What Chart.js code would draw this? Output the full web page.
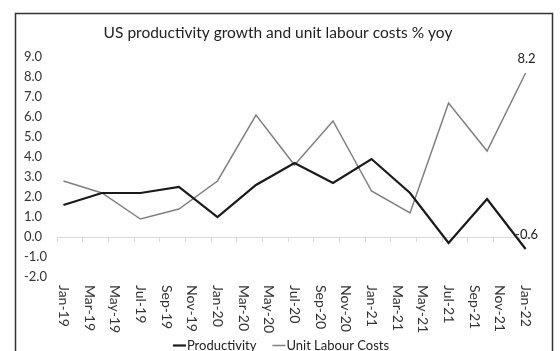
<!DOCTYPE html>
<html lang="en">
<head>
  <meta charset="UTF-8" />
  <title>US productivity growth and unit labour costs</title>
  <script src="https://cdn.jsdelivr.net/npm/chart.js"></script>
  <style>
    html, body {
      margin: 0;
      padding: 0;
      background: #fff;
      width: 560px;
      height: 351px;
      overflow: hidden;
    }
    .grafico-container {
      position: absolute;
      left: 0;
      top: 0;
      width: 560px;
      height: 351px;
    }
  </style>
</head>
<body>
  <div class="grafico-container">
    <canvas id="grafico"></canvas>
  </div>

  <script>
    // quarterly observations, placed on a monthly date axis
    const quarters = ['Jan-19', 'Apr-19', 'Jul-19', 'Oct-19', 'Jan-20', 'Apr-20', 'Jul-20',
      'Oct-20', 'Jan-21', 'Apr-21', 'Jul-21', 'Oct-21', 'Jan-22'];
    const productivity = [1.6, 2.2, 2.2, 2.5, 1.0, 2.6, 3.7, 2.7, 3.9, 2.2, -0.3, 1.9, -0.6];
    const unitLabourCosts = [2.8, 2.2, 0.9, 1.4, 2.8, 6.1, 3.6, 5.8, 2.3, 1.2, 6.7, 4.3, 8.2];

    // axis labels shown every two months
    const tickLabels = ['Jan-19', 'Mar-19', 'May-19', 'Jul-19', 'Sep-19', 'Nov-19', 'Jan-20',
      'Mar-20', 'May-20', 'Jul-20', 'Sep-20', 'Nov-20', 'Jan-21', 'Mar-21', 'May-21',
      'Jul-21', 'Sep-21', 'Nov-21', 'Jan-22'];
    const yTicks = [-2, -1, 0, 1, 2, 3, 4, 5, 6, 7, 8, 9];

    // monthly categories Jan-19 .. Jan-22
    const monthNames = ['Jan', 'Feb', 'Mar', 'Apr', 'May', 'Jun', 'Jul', 'Aug', 'Sep', 'Oct', 'Nov', 'Dec'];
    const months = [];
    for (let yr = 19; yr <= 22; yr++) {
      for (let m = 0; m < 12; m++) {
        months.push(monthNames[m] + '-' + yr);
        if (yr === 22) break;
      }
    }

    const fonte = 'Lato, "DejaVu Sans", sans-serif';

    function pontos(valores) {
      return quarters.map((q, i) => ({ x: q, y: valores[i] }));
    }

    // outer frame of the chart (bottom edge runs past the window)
    const moldura = {
      id: 'moldura',
      afterDraw(chart) {
        const ctx = chart.ctx;
        ctx.save();
        ctx.strokeStyle = '#333';
        ctx.lineWidth = 1.5;
        ctx.strokeRect(15.5, 13.5, 537, 400);
        ctx.restore();
      }
    };

    // rotated date labels (read top to bottom) below the plot
    const rotulosX = {
      id: 'rotulosX',
      afterDraw(chart) {
        const ctx = chart.ctx;
        const xs = chart.scales.x;
        const base = chart.chartArea.bottom + 8;
        ctx.save();
        ctx.fillStyle = '#333';
        ctx.font = '14px ' + fonte;
        ctx.textAlign = 'left';
        ctx.textBaseline = 'middle';
        tickLabels.forEach(lab => {
          const x = xs.getPixelForValue(months.indexOf(lab));
          ctx.save();
          ctx.translate(x, base);
          ctx.rotate(Math.PI / 2);
          ctx.fillText(lab, 0, 0);
          ctx.restore();
        });
        ctx.restore();
      }
    };

    // value labels on the last point of each series
    const rotulosFinais = {
      id: 'rotulosFinais',
      beforeDatasetsDraw(chart) {
        const ctx = chart.ctx;
        ctx.save();
        ctx.fillStyle = '#222';
        ctx.font = '13px ' + fonte;
        ctx.textAlign = 'center';
        ctx.textBaseline = 'middle';
        chart.data.datasets.forEach((ds, i) => {
          const meta = chart.getDatasetMeta(i);
          const last = meta.data[meta.data.length - 1];
          const v = ds.data[ds.data.length - 1].y;
          ctx.fillText(v.toFixed(1), last.x + 1, last.y - 14);
        });
        ctx.restore();
      }
    };

    // line legend at the bottom edge, partly cut by the window like the original
    const legenda = {
      id: 'legenda',
      afterDraw(chart) {
        const ctx = chart.ctx;
        const y = 345.5;
        const linha = 13, folga = 1, entre = 16;
        ctx.save();
        ctx.font = '13px ' + fonte;
        ctx.textBaseline = 'middle';
        ctx.textAlign = 'left';
        const itens = chart.data.datasets.map(ds => ({ ds, w: ctx.measureText(ds.label).width }));
        const total = itens.reduce((s, it) => s + linha + folga + it.w, 0) + entre * (itens.length - 1);
        let x = 281 - total / 2;
        itens.forEach(it => {
          ctx.strokeStyle = it.ds.borderColor;
          ctx.lineWidth = it.ds.borderWidth;
          ctx.beginPath();
          ctx.moveTo(x, y);
          ctx.lineTo(x + linha, y);
          ctx.stroke();
          ctx.fillStyle = '#222';
          ctx.fillText(it.ds.label, x + linha + folga, y);
          x += linha + folga + it.w + entre;
        });
        ctx.restore();
      }
    };

    const config = {
      type: 'line',
      data: {
        labels: months,
        datasets: [
          {
            label: 'Productivity',
            data: pontos(productivity),
            borderColor: '#1a1a1a',
            backgroundColor: '#1a1a1a',
            borderWidth: 2.2,
            pointRadius: 0,
            tension: 0
          },
          {
            label: 'Unit Labour Costs',
            data: pontos(unitLabourCosts),
            borderColor: '#808080',
            backgroundColor: '#808080',
            borderWidth: 1.5,
            pointRadius: 0,
            tension: 0
          }
        ]
      },
      options: {
        responsive: true,
        maintainAspectRatio: false,
        animation: false,
        layout: {
          padding: { left: 24, right: 28, top: 0, bottom: 74 }
        },
        plugins: {
          title: {
            display: true,
            text: 'US productivity growth and unit labour costs % yoy',
            color: '#222',
            font: { family: fonte, size: 15.5, weight: 'normal' },
            padding: { top: 23.7, bottom: 14.7 }
          },
          legend: { display: false },
          tooltip: { enabled: false }
        },
        scales: {
          x: {
            type: 'category',
            offset: true,
            position: { y: 0 },
            ticks: { display: false, autoSkip: false },
            grid: {
              offset: true,
              drawOnChartArea: false,
              tickLength: 4,
              color: c => (c.index % 2 === 0 ? '#d9d9d9' : 'rgba(0,0,0,0)')
            },
            border: { color: '#d9d9d9', width: 1 }
          },
          y: {
            min: -2,
            max: 9,
            afterBuildTicks: axis => {
              axis.ticks = yTicks.map(v => ({ value: v }));
            },
            afterFit: axis => { axis.width = 33; },
            ticks: {
              color: '#333',
              font: { family: fonte, size: 13 },
              crossAlign: 'far',
              padding: 10,
              autoSkip: false,
              callback: v => v.toFixed(1)
            },
            grid: { display: false },
            border: { display: false }
          }
        }
      },
      plugins: [moldura, rotulosX, rotulosFinais, legenda]
    };

    new Chart(document.getElementById('grafico').getContext('2d'), config);
  </script>
</body>
</html>
